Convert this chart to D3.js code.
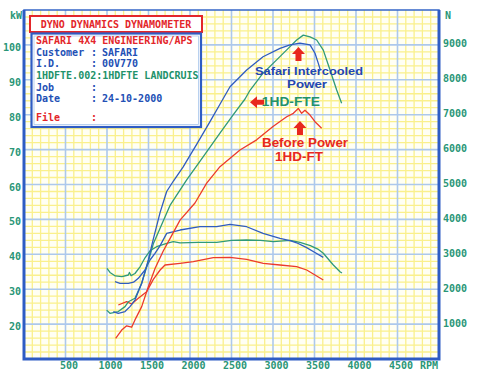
<!DOCTYPE html>
<html>
<head>
<meta charset="utf-8">
<script src="https://cdn.jsdelivr.net/npm/d3@7"></script>
<style>
  body { margin: 0; background: #fff; }
  svg { display: block; }
  .tick text { font-family: "DejaVu Sans Mono", monospace; font-weight: bold; font-size: 10px; fill: #2a9677; }
</style>
</head>
<body>
<div id="chart"></div>
<script>
// power curves, kW against rpm
var bluePower = [[1076,23.6],[1136,23.1],[1217,23.6],[1277,25],[1337,26.9],[1418,31.7],[1498,38.4],[1554,44],[1640,52],[1719,58],[1800,61],[1916,65],[2080,71.5],[2241,78],[2361,83],[2482,88],[2683,92.8],[2880,96.6],[3084,99],[3205,100],[3325,100.5],[3446,100],[3506,97.6],[3546,94.7],[3570,92.8]];
var greenPower = [[996,24],[1036,23.1],[1136,23.6],[1217,25],[1257,26.4],[1337,27.4],[1418,31.7],[1498,38],[1558,43],[1759,54],[1960,61.3],[2160,68],[2361,74.7],[2522,80],[2663,84.5],[2723,87],[2880,91.9],[3044,95.7],[3205,99.5],[3285,101.4],[3365,102.8],[3446,102.3],[3526,101.4],[3606,98.5],[3687,92.8],[3767,87.1],[3827,83.3]];
var redPower = [[1104,15.9],[1177,18.3],[1237,19.5],[1297,19.1],[1337,21.2],[1418,25],[1498,30.7],[1580,36],[1679,41],[1759,44.5],[1880,49.8],[2060,54.7],[2201,60.4],[2361,65.1],[2602,69.9],[2803,72.8],[3000,76.6],[3165,79.4],[3245,80.4],[3305,81.8],[3345,80.4],[3385,81.3],[3446,79.9],[3506,78],[3586,76.1]];

// tractive force curves, N against rpm
var blueForce = [[1096,2215],[1157,2169],[1257,2169],[1320,2200],[1377,2312],[1458,2550],[1518,2837],[1578,3028],[1640,3250],[1719,3600],[1880,3696],[2120,3791],[2321,3791],[2482,3859],[2683,3790],[2880,3601],[3084,3457],[3205,3390],[3285,3330],[3400,3200],[3500,3060],[3606,2913]];
var greenForce = [[1000,2599],[1036,2480],[1100,2380],[1180,2360],[1257,2407],[1270,2480],[1290,2390],[1337,2450],[1400,2650],[1458,2900],[1518,3100],[1598,3218],[1719,3315],[1799,3362],[1880,3330],[2100,3340],[2321,3343],[2500,3400],[2683,3410],[2850,3400],[3004,3362],[3205,3400],[3325,3340],[3450,3250],[3540,3150],[3606,3030],[3727,2693],[3807,2502],[3831,2464]];
var redForce = [[1136,1547],[1237,1642],[1297,1576],[1377,1738],[1478,1929],[1558,2280],[1640,2550],[1699,2693],[1880,2742],[2040,2788],[2281,2903],[2482,2913],[2683,2856],[2883,2742],[3084,2693],[3285,2646],[3406,2550],[3486,2435],[3606,2263]];

var rpmTicks = [500,1000,1500,2000,2500,3000,3500,4000,4500];
var kwTicks = [20,30,40,50,60,70,80,90,100];
var nTicks = [1000,2000,3000,4000,5000,6000,7000,8000,9000];

var infoLines = [
    {label: "SAFARI 4X4 ENGINEERING/APS", colon: "", value: "", color: "#e3262a"},
    {label: "Customer", colon: ":", value: "SAFARI", color: "#2350b5"},
    {label: "I.D.", colon: ":", value: "00V770", color: "#2350b5"},
    {label: "1HDFTE.002:1HDFTE LANDCRUIS", colon: "", value: "", color: "#22926a"},
    {label: "Job", colon: ":", value: "", color: "#2350b5"},
    {label: "Date", colon: ":", value: "24-10-2000", color: "#2350b5"},
    {label: "File", colon: ":", value: "", color: "#e3262a"}
];
var infoBaselines = [44, 55.5, 67, 78.5, 90.5, 102, 121];

var width = 480, height = 374;
var margin = {top: 10, right: 41, bottom: 15, left: 24};

var svg = d3.select("#chart").append("svg")
    .attr("width", width)
    .attr("height", height);

var x = d3.scaleLinear().domain([0, 5000]).range([margin.left, width - margin.right]);
var yKw = d3.scaleLinear().domain([10, 110]).range([height - margin.bottom, margin.top]);
var yN = d3.scaleLinear().domain([0, 10000]).range([height - margin.bottom, margin.top]);

var x0 = x.range()[0], x1 = x.range()[1];
var yb = yKw.range()[0], yt = yKw.range()[1];

// grid paper
var grid = svg.append("g");
grid.append("rect")
    .attr("x", x0).attr("y", yt)
    .attr("width", x1 - x0).attr("height", yb - yt)
    .attr("fill", "#fffff4");
grid.selectAll(".minorV").data(d3.range(100, 5000, 100).filter(d => d % 500 != 0))
    .enter().append("line")
    .attr("x1", d => x(d)).attr("x2", d => x(d))
    .attr("y1", yt).attr("y2", yb)
    .attr("stroke", "#faf08c").attr("stroke-width", 1.3);
grid.selectAll(".minorH").data(d3.range(12, 110, 2).filter(d => d % 10 != 0))
    .enter().append("line")
    .attr("x1", x0).attr("x2", x1)
    .attr("y1", d => yKw(d)).attr("y2", d => yKw(d))
    .attr("stroke", "#faf08c").attr("stroke-width", 1.3);
grid.selectAll(".majorV").data(rpmTicks)
    .enter().append("line")
    .attr("x1", d => x(d)).attr("x2", d => x(d))
    .attr("y1", yt).attr("y2", yb)
    .attr("stroke", "#acc8ec").attr("stroke-width", 1.6);
grid.selectAll(".majorH").data(kwTicks)
    .enter().append("line")
    .attr("x1", x0).attr("x2", x1)
    .attr("y1", d => yKw(d)).attr("y2", d => yKw(d))
    .attr("stroke", "#acc8ec").attr("stroke-width", 1.6);

// frame
svg.append("rect")
    .attr("x", x0).attr("y", yt)
    .attr("width", x1 - x0).attr("height", yb - yt)
    .attr("fill", "none").attr("stroke", "#3565c8").attr("stroke-width", 1.5);
svg.append("path")
    .attr("d", `M${x0},${yt}V${yb}H${x1}V${yt}`)
    .attr("fill", "none").attr("stroke", "#2e5cc4").attr("stroke-width", 3);

// axes
var fmt = d3.format("d");
var leftAxis = svg.append("g")
    .attr("transform", `translate(${x0},0)`)
    .call(d3.axisLeft(yKw).tickValues(kwTicks).tickFormat(fmt).tickSize(0).tickPadding(3));
leftAxis.selectAll("text").attr("dy", "0.55em");
var rightAxis = svg.append("g")
    .attr("transform", `translate(${x1},0)`)
    .call(d3.axisRight(yN).tickValues(nTicks).tickFormat(fmt).tickSize(0).tickPadding(4));
rightAxis.selectAll("text").attr("dy", "0.2em");
var bottomAxis = svg.append("g")
    .attr("transform", `translate(0,${yb})`)
    .call(d3.axisBottom(x).tickValues(rpmTicks).tickFormat(fmt).tickSize(0).tickPadding(3));
bottomAxis.selectAll("text").attr("dx", "3");
svg.selectAll(".domain").remove();

var unitStyle = function(sel){
    sel.style("font-family", "DejaVu Sans Mono, monospace")
       .style("font-weight", "bold")
       .style("font-size", "10px")
       .attr("fill", "#2a9677");
};
svg.append("text").attr("x", 10).attr("y", 19).text("kW").call(unitStyle);
svg.append("text").attr("x", 445).attr("y", 19).text("N").call(unitStyle);
svg.append("text").attr("x", 420).attr("y", 369).text("RPM").call(unitStyle);

// curves
var linePow = d3.line().x(d => x(d[0])).y(d => yKw(d[1]));
var lineForce = d3.line().x(d => x(d[0])).y(d => yN(d[1]));
var curves = [
    {data: redForce, line: lineForce, color: "#ec3a2c"},
    {data: greenForce, line: lineForce, color: "#2f9a78"},
    {data: blueForce, line: lineForce, color: "#2f5cc0"},
    {data: redPower, line: linePow, color: "#ec3a2c"},
    {data: greenPower, line: linePow, color: "#2f9a78"},
    {data: bluePower, line: linePow, color: "#2f5cc0"}
];
svg.append("g").selectAll("path").data(curves)
    .enter().append("path")
    .attr("d", d => d.line(d.data))
    .attr("fill", "none")
    .attr("stroke", d => d.color)
    .attr("stroke-width", 1.3)
    .attr("stroke-linejoin", "round");

// info box
var info = svg.append("g");
info.append("rect")
    .attr("x", 30).attr("y", 16).attr("width", 172).attr("height", 16)
    .attr("fill", "#fff").attr("stroke", "#e3262a").attr("stroke-width", 2);
info.append("text")
    .attr("x", 116).attr("y", 28)
    .attr("text-anchor", "middle")
    .style("font-family", "DejaVu Sans Mono, monospace")
    .style("font-size", "10px").style("font-weight", "bold")
    .attr("fill", "#e3262a")
    .text("DYNO DYNAMICS DYNAMOMETER");
info.append("rect")
    .attr("x", 31.5).attr("y", 33.5).attr("width", 169.5).attr("height", 93.5)
    .attr("fill", "#fff").attr("stroke", "#2e5cc4").attr("stroke-width", 2.2);
info.append("rect")
    .attr("x", 34).attr("y", 36).attr("width", 164.5).attr("height", 88.5)
    .attr("fill", "none").attr("stroke", "#a9c6ec").attr("stroke-width", 0.8);
var rows = info.selectAll(".row").data(infoLines)
    .enter().append("g")
    .attr("transform", (d, i) => `translate(0,${infoBaselines[i]})`)
    .style("font-family", "DejaVu Sans Mono, monospace")
    .style("font-size", "10px").style("font-weight", "bold")
    .attr("fill", d => d.color);
rows.append("text").attr("x", 36).text(d => d.label);
rows.append("text").attr("x", 91).text(d => d.colon);
rows.append("text").attr("x", 102).text(d => d.value);

// annotations
var note = svg.append("g")
    .style("font-family", "Liberation Sans, Arial, sans-serif")
    .style("font-weight", "bold")
    .attr("text-anchor", "middle");
var upArrow = function(cx, ty){
    return `M${cx},${ty}L${cx+6.5},${ty+7}L${cx+3},${ty+7}L${cx+3},${ty+14}L${cx-3},${ty+14}L${cx-3},${ty+7}L${cx-6.5},${ty+7}Z`;
};
var leftArrow = function(tx, cy){
    return `M${tx},${cy}L${tx+7},${cy-6}L${tx+7},${cy-2.5}L${tx+14},${cy-2.5}L${tx+14},${cy+2.5}L${tx+7},${cy+2.5}L${tx+7},${cy+6}Z`;
};
note.append("path").attr("d", upArrow(x(3307), yKw(99.4))).attr("fill", "#e8281e");
note.append("path").attr("d", upArrow(x(3325), yKw(78.2))).attr("fill", "#e8281e");
note.append("path").attr("d", leftArrow(x(2723), yKw(83.6))).attr("fill", "#e8281e");

note.append("text").attr("x", x(3434)).attr("y", yKw(91.5))
    .attr("fill", "#2346b2").style("font-size", "11.5px")
    .attr("textLength", 108).attr("lengthAdjust", "spacingAndGlyphs")
    .text("Safari Intercooled");
note.append("text").attr("x", x(3410)).attr("y", yKw(87.7))
    .attr("fill", "#2346b2").style("font-size", "11.5px")
    .attr("textLength", 40).attr("lengthAdjust", "spacingAndGlyphs")
    .text("Power");
note.append("text").attr("x", x(3215)).attr("y", yKw(82.5))
    .attr("fill", "#22926a").style("font-size", "13.5px")
    .attr("textLength", 58).attr("lengthAdjust", "spacingAndGlyphs")
    .text("1HD-FTE");
note.append("text").attr("x", x(3386)).attr("y", yKw(70.7))
    .attr("fill", "#e8281e").style("font-size", "13px")
    .attr("textLength", 86).attr("lengthAdjust", "spacingAndGlyphs")
    .text("Before Power");
note.append("text").attr("x", x(3313)).attr("y", yKw(66.7))
    .attr("fill", "#e8281e").style("font-size", "13px")
    .attr("textLength", 48).attr("lengthAdjust", "spacingAndGlyphs")
    .text("1HD-FT");
</script>
</body>
</html>
